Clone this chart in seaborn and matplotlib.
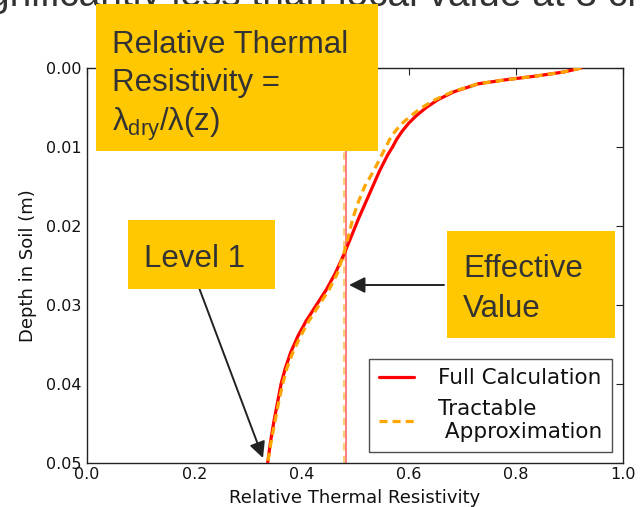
import matplotlib
matplotlib.use("Agg")
import numpy as np
import pandas as pd
import seaborn as sns
import matplotlib.pyplot as plt
from matplotlib.patches import Rectangle
from matplotlib.ticker import FormatStrFormatter

# ---------------- data ----------------
depth_full = [0.0000, 0.0005, 0.0010, 0.0015, 0.0020, 0.0030, 0.0040, 0.0050,
              0.0060, 0.0070, 0.0080, 0.0090, 0.0100, 0.0110, 0.0130, 0.0150,
              0.0170, 0.0190, 0.0210, 0.0235, 0.0260, 0.0280, 0.0300, 0.0320,
              0.0340, 0.0360, 0.0380, 0.0400, 0.0425, 0.0450, 0.0475, 0.0500]
res_full = [0.922, 0.890, 0.840, 0.780, 0.730, 0.685, 0.655, 0.633,
            0.615, 0.600, 0.588, 0.578, 0.570, 0.561, 0.546, 0.533,
            0.520, 0.507, 0.495, 0.480, 0.463, 0.447, 0.428, 0.409,
            0.393, 0.380, 0.370, 0.362, 0.355, 0.348, 0.342, 0.337]

depth_approx = [0.0000, 0.0005, 0.0010, 0.0015, 0.0020, 0.0030, 0.0040, 0.0050,
                0.0060, 0.0070, 0.0080, 0.0090, 0.0110, 0.0130, 0.0150, 0.0170,
                0.0190, 0.0210, 0.0235, 0.0260, 0.0280, 0.0300, 0.0320, 0.0340,
                0.0360, 0.0380, 0.0400, 0.0425, 0.0450, 0.0475, 0.0500]
res_approx = [0.922, 0.890, 0.840, 0.780, 0.730, 0.682, 0.650, 0.625,
              0.605, 0.588, 0.575, 0.565, 0.550, 0.535, 0.518, 0.506,
              0.496, 0.489, 0.479, 0.467, 0.452, 0.433, 0.414, 0.398,
              0.384, 0.373, 0.365, 0.357, 0.350, 0.343, 0.337]

eff_full = 0.4836
eff_approx = 0.479

x_ticks = [0.0, 0.2, 0.4, 0.6, 0.8, 1.0]
y_ticks = [0.00, 0.01, 0.02, 0.03, 0.04, 0.05]

series_names = ["Full Calculation", "Tractable\n Approximation"]
xlabel = "Relative Thermal Resistivity"
ylabel = "Depth in Soil (m)"

# ---------------- style ----------------
sns.set_style("white")
plt.rcParams["font.family"] = ["DejaVu Sans"]
plt.rcParams["mathtext.fontset"] = "custom"
plt.rcParams["mathtext.rm"] = "Liberation Sans"
plt.rcParams["mathtext.it"] = "Liberation Sans:italic"
plt.rcParams["mathtext.bf"] = "Liberation Sans:bold"

W, H = 640, 507
fig = plt.figure(figsize=(W / 100, H / 100), dpi=100)
fig.patch.set_facecolor("white")

def fx(px):
    return px / W

def fy(py):
    return 1 - py / H

ax = fig.add_axes([fx(87), fy(463), (623 - 87) / W, (463 - 68) / H])
ax.set_facecolor("white")

df_full = pd.DataFrame({"res": res_full, "depth": depth_full})
df_approx = pd.DataFrame({"res": res_approx, "depth": depth_approx})

sns.lineplot(data=df_full, x="res", y="depth", ax=ax, color="#ff0000",
             lw=2.3, sort=False, estimator=None, label=series_names[0], zorder=3)
sns.lineplot(data=df_approx, x="res", y="depth", ax=ax, color="#ffa500",
             lw=2.3, sort=False, estimator=None, label=series_names[1],
             linestyle=(0, (2.5, 1.6)), zorder=4)

ax.axvline(eff_full, color="#ff0000", lw=1.3, alpha=0.55, zorder=2)
ax.axvline(eff_approx, color="#ffa500", lw=1.3, alpha=0.6, ls=(0, (4, 3)), zorder=2)

ax.set_xlim(0, 1)
ax.set_ylim(0.05, 0.0)
ax.set_xticks(x_ticks)
ax.set_yticks(y_ticks)
ax.xaxis.set_major_formatter(FormatStrFormatter("%.1f"))
ax.yaxis.set_major_formatter(FormatStrFormatter("%.2f"))
ax.tick_params(axis="both", direction="in", length=5, width=0.8, color="#222222",
               labelsize=11.5, labelcolor="#111111", top=True, right=True, pad=3)
ax.tick_params(axis="y", pad=4)
for s in ax.spines.values():
    s.set_visible(True)
    s.set_color("#222222")
    s.set_linewidth(1.0)
ax.set_xlabel(xlabel, fontsize=13, color="#111111", labelpad=5)
ax.set_ylabel(ylabel, fontsize=13, color="#111111", labelpad=6)

leg = ax.legend(loc="lower right", bbox_to_anchor=(0.980, 0.028), borderaxespad=0,
                fontsize=15.5, frameon=True, fancybox=False, shadow=False,
                handlelength=1.6, handletextpad=1.15, labelspacing=0.5,
                borderpad=0.45)
leg.get_frame().set_edgecolor("#222222")
leg.get_frame().set_linewidth(1.0)
for t in leg.get_texts():
    t.set_color("#111111")

# ---------------- slide overlays ----------------
slide_font = "Liberation Sans"
txt_col = "#333333"
box_col = "#FFC800"

# slide sentence partly cut off by the top edge, as in the reference screenshot
fig.text(fx(-40), fy(6), "significantly less than local value at 3 cm",
         fontsize=28, family=slide_font, color=txt_col, va="baseline", zorder=3)

def ybox(x0, y0, x1, y1):
    fig.add_artist(Rectangle((fx(x0), fy(y1)), (x1 - x0) / W, (y1 - y0) / H,
                             transform=fig.transFigure, facecolor=box_col,
                             edgecolor="none", zorder=10))

ybox(96, 4, 378, 151)
fig.text(fx(112), fy(53), "Relative Thermal", fontsize=22.5, family=slide_font,
         color=txt_col, va="baseline", zorder=11)
fig.text(fx(112), fy(91), "Resistivity =", fontsize=22.5, family=slide_font,
         color=txt_col, va="baseline", zorder=11)
fig.text(fx(112), fy(131), r"λ$_{\mathrm{dry}}$/λ(z)", fontsize=22.5, family=slide_font,
         color=txt_col, va="baseline", zorder=11)

ybox(128, 220, 275, 289)
fig.text(fx(144), fy(267), "Level 1", fontsize=22.5, family=slide_font,
         color=txt_col, va="baseline", zorder=11)

ybox(447, 231, 615, 338)
fig.text(fx(463), fy(277), "Effective", fontsize=22.5, family=slide_font,
         color=txt_col, va="baseline", zorder=11)
fig.text(fx(463), fy(317), "Value", fontsize=22.5, family=slide_font,
         color=txt_col, va="baseline", zorder=11)

arrow_kw = dict(arrowstyle="-|>", color="#222222", lw=1.4, mutation_scale=24,
                shrinkA=0, shrinkB=0)
ax.annotate("", xy=(fx(263), fy(458)), xycoords="figure fraction",
            xytext=(fx(198), fy(285)), textcoords="figure fraction",
            arrowprops=arrow_kw, zorder=6)
ax.annotate("", xy=(fx(349), fy(285)), xycoords="figure fraction",
            xytext=(fx(444), fy(285)), textcoords="figure fraction",
            arrowprops=arrow_kw, zorder=6)

fig.savefig("out.png", dpi=100, facecolor="white")
